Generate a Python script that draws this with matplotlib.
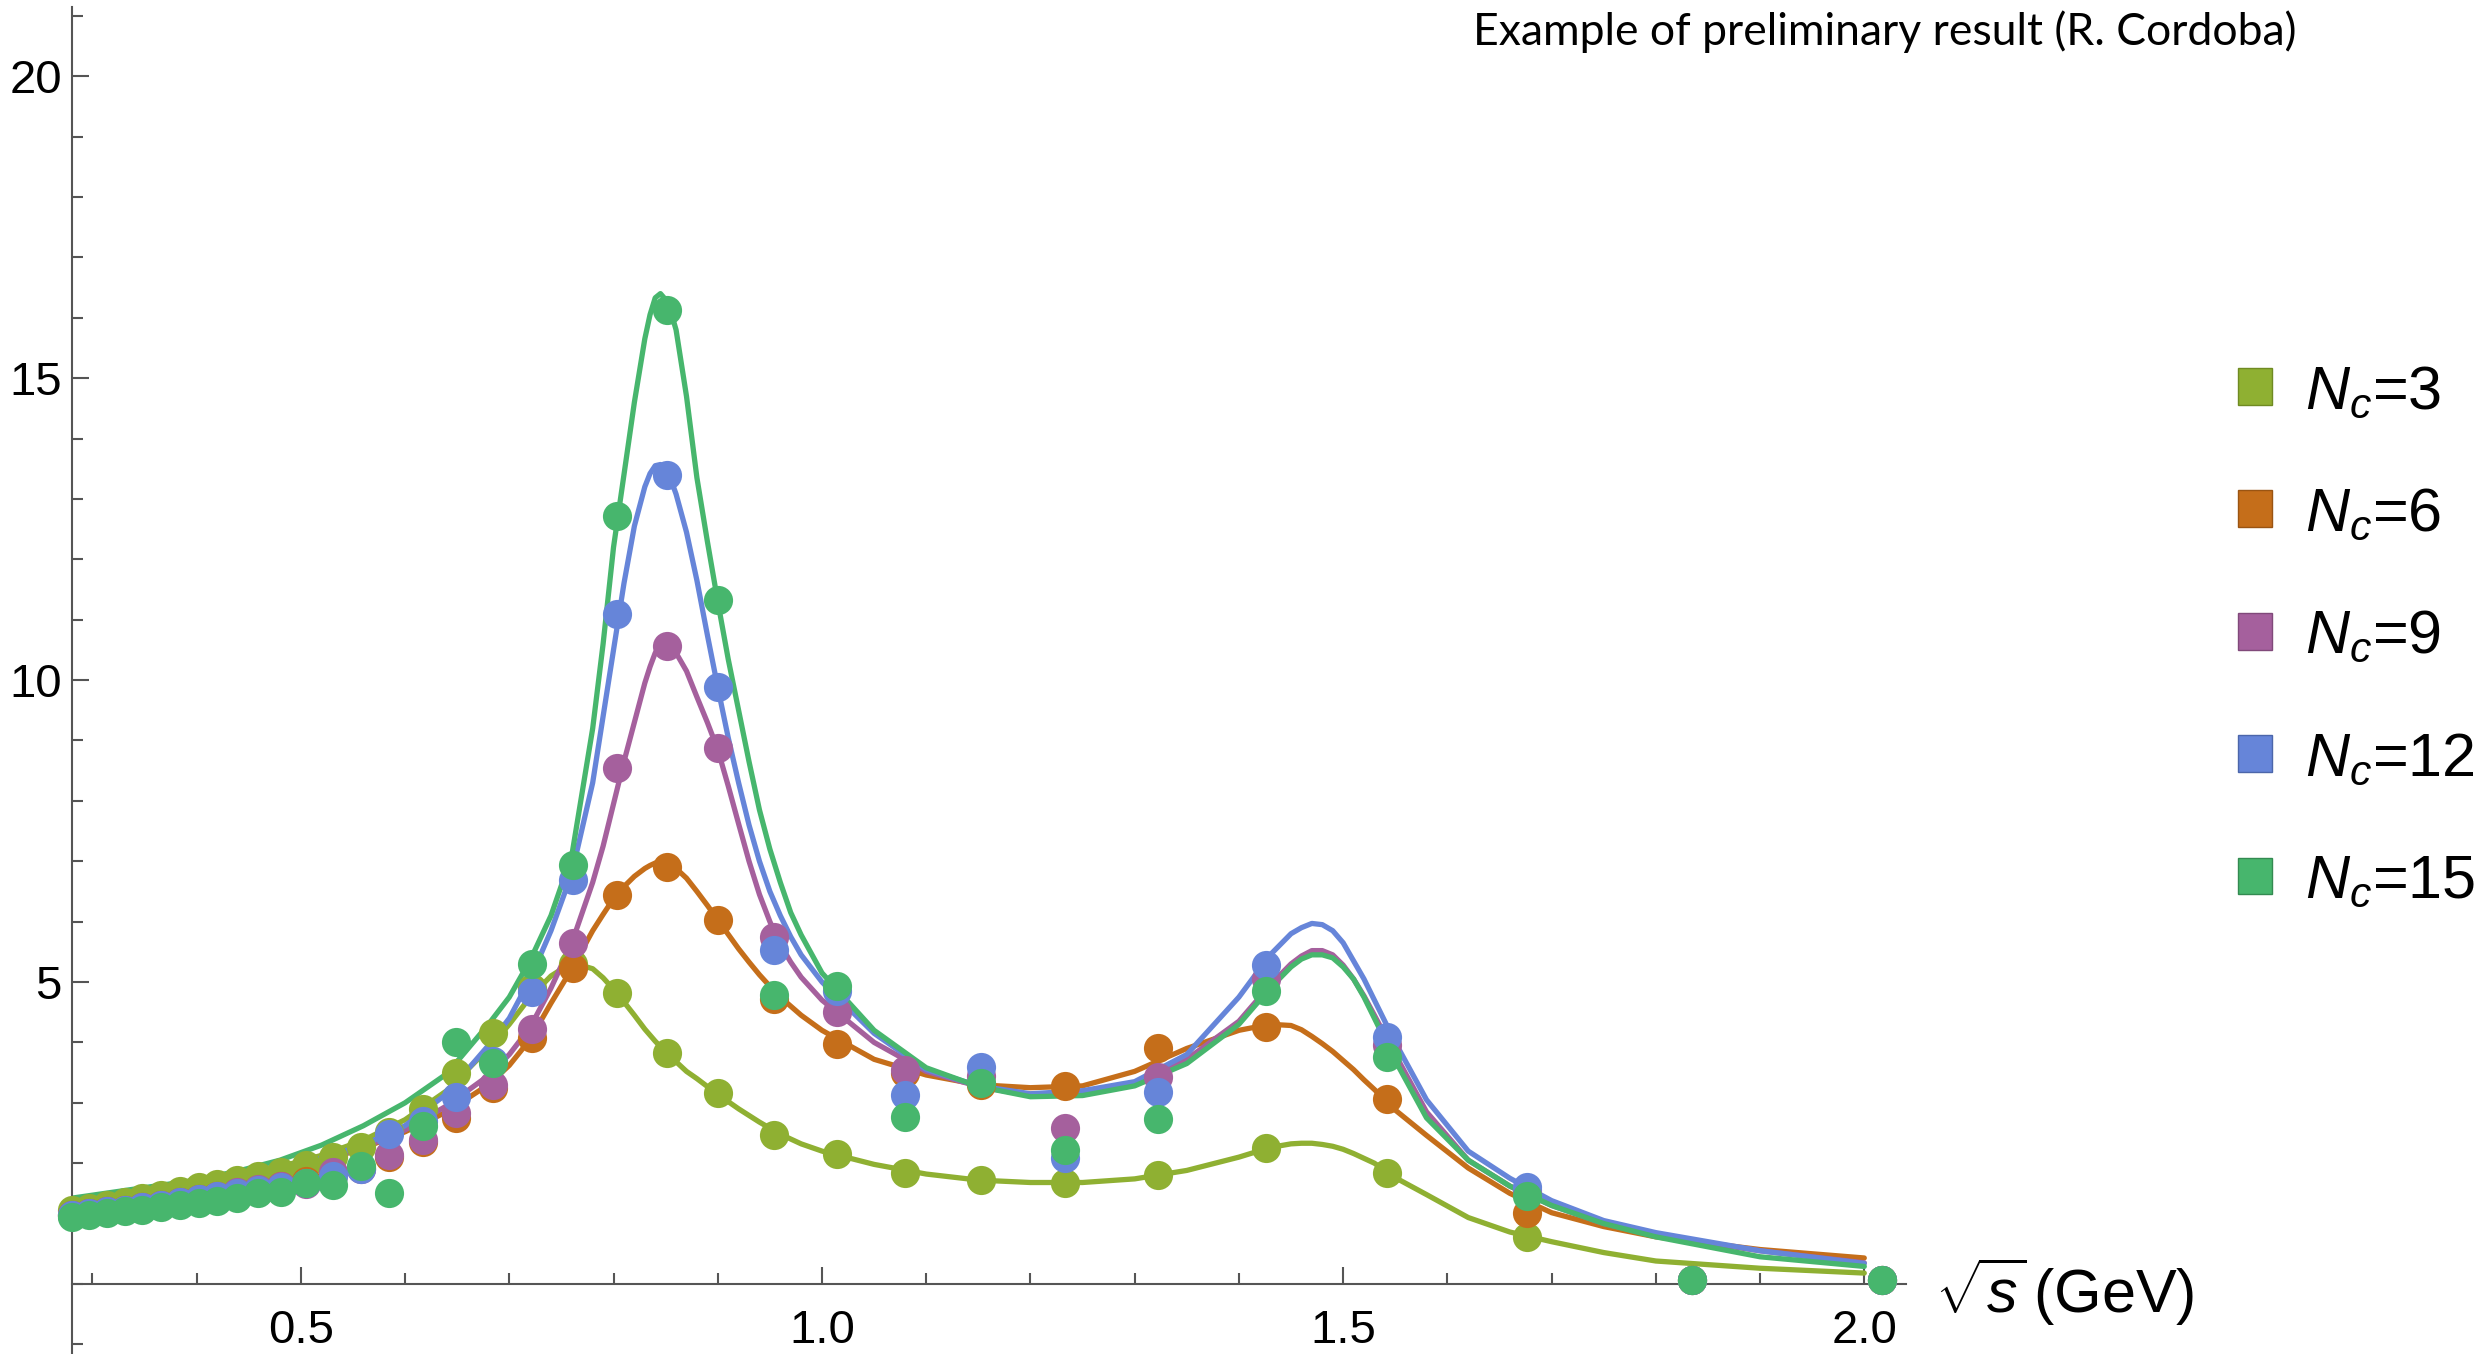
import matplotlib
matplotlib.use("Agg")
import matplotlib.pyplot as plt
from matplotlib.ticker import MultipleLocator, FixedLocator
from matplotlib.patches import Patch

plt.rcParams["font.family"] = ["Liberation Sans", "DejaVu Sans"]
plt.rcParams["mathtext.fontset"] = "custom"
plt.rcParams["mathtext.rm"] = "Liberation Sans"
plt.rcParams["mathtext.it"] = "Liberation Sans:italic"
plt.rcParams["mathtext.sf"] = "Liberation Sans"

# data points (sqrt(s) in GeV)
pts_x = [0.280, 0.297, 0.314, 0.331, 0.348, 0.366, 0.384, 0.402, 0.420, 0.439,
         0.459, 0.481, 0.505, 0.531, 0.558, 0.585, 0.617, 0.649, 0.684, 0.722,
         0.761, 0.803, 0.851, 0.900, 0.954, 1.014, 1.080, 1.153, 1.233, 1.322,
         1.426, 1.542, 1.676, 1.835, 2.017]
nc3_pts = [1.22, 1.26, 1.31, 1.36, 1.42, 1.48, 1.54, 1.60, 1.66, 1.72,
           1.79, 1.86, 1.97, 2.10, 2.27, 2.52, 2.90, 3.49, 4.15, 4.90,
           5.30, 4.81, 3.82, 3.16, 2.47, 2.15, 1.83, 1.72, 1.67, 1.80,
           2.25, 1.83, 0.78, 0.07, 0.07]
nc6_pts = [1.14, 1.17, 1.20, 1.23, 1.27, 1.31, 1.35, 1.40, 1.45, 1.50,
           1.56, 1.63, 1.71, 1.80, 1.92, 2.10, 2.35, 2.75, 3.25, 4.07,
           5.23, 6.44, 6.91, 6.03, 4.72, 3.98, 3.50, 3.30, 3.27, 3.90,
           4.26, 3.07, 1.17, 0.07, 0.07]
nc9_pts = [1.14, 1.17, 1.20, 1.23, 1.27, 1.31, 1.36, 1.41, 1.46, 1.52,
           1.58, 1.63, 1.65, 1.85, 1.90, 2.14, 2.38, 2.83, 3.29, 4.23,
           5.64, 8.55, 10.56, 8.87, 5.75, 4.51, 3.54, 3.45, 2.58, 3.43,
           5.05, 3.95, 1.55, 0.07, 0.07]
nc12_pts = [1.14, 1.17, 1.20, 1.23, 1.27, 1.31, 1.35, 1.40, 1.45, 1.50,
            1.55, 1.60, 1.68, 1.78, 1.90, 2.49, 2.70, 3.10, 3.70, 4.84,
            6.69, 11.10, 13.40, 9.88, 5.53, 4.85, 3.13, 3.60, 2.08, 3.18,
            5.28, 4.09, 1.61, 0.07, 0.07]
nc15_pts = [1.11, 1.14, 1.17, 1.20, 1.23, 1.27, 1.30, 1.34, 1.38, 1.42,
            1.50, 1.53, 1.67, 1.64, 1.95, 1.50, 2.62, 4.00, 3.66, 5.30,
            6.94, 12.71, 16.13, 11.32, 4.78, 4.93, 2.77, 3.32, 2.22, 2.73,
            4.85, 3.76, 1.46, 0.07, 0.07]

# fitted curves
curve_x = [0.28, 0.32, 0.36, 0.40, 0.44, 0.48, 0.52, 0.56, 0.60, 0.64,
           0.68, 0.70, 0.72, 0.74, 0.76,
           0.78, 0.79, 0.80, 0.81, 0.82, 0.83,
           0.835, 0.84, 0.845, 0.85, 0.855, 0.86,
           0.87, 0.88, 0.89, 0.90, 0.91, 0.92, 0.93, 0.94, 0.95, 0.96, 0.97, 0.98,
           1.00, 1.05, 1.10, 1.15, 1.20, 1.25, 1.30, 1.35, 1.40, 1.43,
           1.45, 1.46, 1.47, 1.48, 1.49, 1.50, 1.51, 1.52, 1.53,
           1.55, 1.58, 1.62, 1.66, 1.70, 1.75, 1.80, 1.90, 2.00]
nc3_fit = [1.36, 1.44, 1.54, 1.65, 1.78, 1.94, 2.13, 2.38, 2.72, 3.20,
           3.90, 4.30, 4.75, 5.10, 5.32,
           5.22, 5.07, 4.88, 4.67, 4.45, 4.22,
           4.12, 4.02, 3.93, 3.85, 3.76, 3.68,
           3.52, 3.40, 3.27, 3.15, 3.02, 2.90, 2.79, 2.68, 2.58, 2.48, 2.40, 2.32,
           2.20, 1.98, 1.82, 1.72, 1.68, 1.68, 1.74, 1.88, 2.10, 2.26,
           2.32, 2.33, 2.33, 2.31, 2.28, 2.23, 2.16, 2.08, 2.00,
           1.76, 1.48, 1.10, 0.86, 0.70, 0.52, 0.38, 0.26, 0.18]
nc6_fit = [1.32, 1.40, 1.49, 1.59, 1.71, 1.86, 2.03, 2.25, 2.52, 2.85,
           3.30, 3.62, 4.05, 4.65, 5.22,
           5.85, 6.12, 6.38, 6.58, 6.75, 6.88,
           6.93, 6.97, 6.98, 6.97, 6.93, 6.88,
           6.72, 6.50, 6.27, 6.03, 5.79, 5.55, 5.33, 5.12, 4.93, 4.75, 4.60, 4.45,
           4.20, 3.72, 3.46, 3.30, 3.25, 3.28, 3.52, 3.90, 4.20, 4.30,
           4.28, 4.21, 4.10, 3.98, 3.85, 3.70, 3.55, 3.38, 3.22,
           2.88, 2.46, 1.92, 1.50, 1.18, 0.95, 0.78, 0.57, 0.43]
nc9_fit = [1.31, 1.39, 1.48, 1.58, 1.70, 1.85, 2.03, 2.26, 2.55, 2.95,
           3.45, 3.80, 4.25, 4.90, 5.65,
           6.65, 7.25, 7.95, 8.65, 9.30, 9.95,
           10.22, 10.45, 10.57, 10.60, 10.55, 10.45,
           10.15, 9.72, 9.30, 8.85, 8.25, 7.62, 7.00, 6.45, 6.00, 5.62, 5.33, 5.08,
           4.70, 4.00, 3.52, 3.27, 3.12, 3.13, 3.32, 3.72, 4.35, 4.95,
           5.30, 5.43, 5.52, 5.52, 5.45, 5.28, 5.05, 4.77, 4.45,
           3.80, 2.85, 2.05, 1.62, 1.30, 1.00, 0.80, 0.55, 0.35]
nc12_fit = [1.33, 1.42, 1.52, 1.63, 1.76, 1.92, 2.08, 2.30, 2.62, 3.15,
            3.95, 4.40, 5.05, 5.85, 6.80,
            8.30, 9.40, 10.50, 11.60, 12.55, 13.20,
            13.42, 13.55, 13.57, 13.50, 13.32, 13.08,
            12.45, 11.65, 10.75, 9.88, 9.05, 8.30, 7.60, 7.00, 6.50, 6.10, 5.75, 5.45,
            5.00, 4.15, 3.55, 3.28, 3.15, 3.20, 3.35, 3.80, 4.75, 5.45,
            5.80, 5.90, 5.97, 5.95, 5.85, 5.65, 5.35, 5.05, 4.70,
            4.00, 3.05, 2.20, 1.75, 1.38, 1.05, 0.85, 0.55, 0.34]
nc15_fit = [1.42, 1.52, 1.62, 1.72, 1.87, 2.05, 2.30, 2.62, 3.00, 3.48,
            4.30, 4.75, 5.36, 6.10, 7.10,
            9.20, 10.60, 12.20, 13.40, 14.60, 15.65,
            16.05, 16.33, 16.40, 16.30, 16.10, 15.80,
            14.70, 13.35, 12.30, 11.30, 10.35, 9.50, 8.65, 7.85, 7.20, 6.65, 6.15, 5.78,
            5.15, 4.20, 3.58, 3.27, 3.10, 3.12, 3.28, 3.65, 4.30, 4.90,
            5.25, 5.38, 5.45, 5.45, 5.40, 5.25, 5.05, 4.75, 4.40,
            3.70, 2.75, 2.05, 1.62, 1.30, 1.00, 0.78, 0.45, 0.29]

labels = ["$N_c$=3", "$N_c$=6", "$N_c$=9", "$N_c$=12", "$N_c$=15"]
colors = ["#8FB032", "#C56E1A", "#A5609D", "#6685D9", "#47B66D"]
edges = ["#6F8A22", "#9A5412", "#80497A", "#4C66AA", "#338A51"]

series_pts = [nc3_pts, nc6_pts, nc9_pts, nc12_pts, nc15_pts]
series_fit = [nc3_fit, nc6_fit, nc9_fit, nc12_fit, nc15_fit]

fig = plt.figure(figsize=(24.84, 13.54), dpi=100)
ax = fig.add_axes([0.0288, 0.0, 0.7385, 0.995])

for fit, col in zip(series_fit, colors):
    ax.plot(curve_x, fit, color=col, lw=3.8, zorder=2,
            solid_capstyle="round", solid_joinstyle="round")
for pts, col in zip(series_pts, colors):
    ax.plot(pts_x, pts, "o", color=col, ms=21, mew=0, zorder=3, clip_on=False)

ax.set_xlim(0.280, 2.04)
ax.set_ylim(-1.16, 21.15)

ax.spines[["top", "right"]].set_visible(False)
ax.spines["bottom"].set_position(("data", 0))
for s in ["left", "bottom"]:
    ax.spines[s].set_color("#555555")
    ax.spines[s].set_linewidth(1.5)

ax.xaxis.set_major_locator(FixedLocator([0.5, 1.0, 1.5, 2.0]))
ax.xaxis.set_minor_locator(MultipleLocator(0.1))
ax.yaxis.set_major_locator(FixedLocator([5, 10, 15, 20]))
ax.yaxis.set_minor_locator(MultipleLocator(1))
ax.set_xticklabels(["0.5", "1.0", "1.5", "2.0"])
ax.set_yticklabels(["5", "10", "15", "20"])
ax.tick_params(which="both", direction="in", colors="#555555", width=1.5,
               labelcolor="black", labelsize=34)
ax.tick_params(which="major", length=12.5)
ax.tick_params(which="minor", length=8)
ax.tick_params(axis="x", pad=18)
ax.tick_params(axis="y", pad=7)

fig.text(1935 / 2484, 1 - 1313 / 1354, r"$\sqrt{s}\,$(GeV)", fontsize=44,
         ha="left", va="baseline")

fig.text(1473 / 2484, 1 - 45 / 1354, "Example of preliminary result (R. Cordoba)",
         fontsize=32, family=["Lato", "DejaVu Sans"], ha="left", va="baseline")

handles = [Patch(facecolor=c, edgecolor=e, lw=1) for c, e in zip(colors, edges)]
ax.legend(handles, labels, loc="upper left", frameon=False, fontsize=44,
          bbox_to_anchor=(2238 / 2484, 1 - 364 / 1354), bbox_transform=fig.transFigure,
          borderpad=0, borderaxespad=0, handlelength=0.55, handleheight=0.55,
          handletextpad=0.55, labelspacing=1.07)

fig.savefig("out.png", dpi=100)
